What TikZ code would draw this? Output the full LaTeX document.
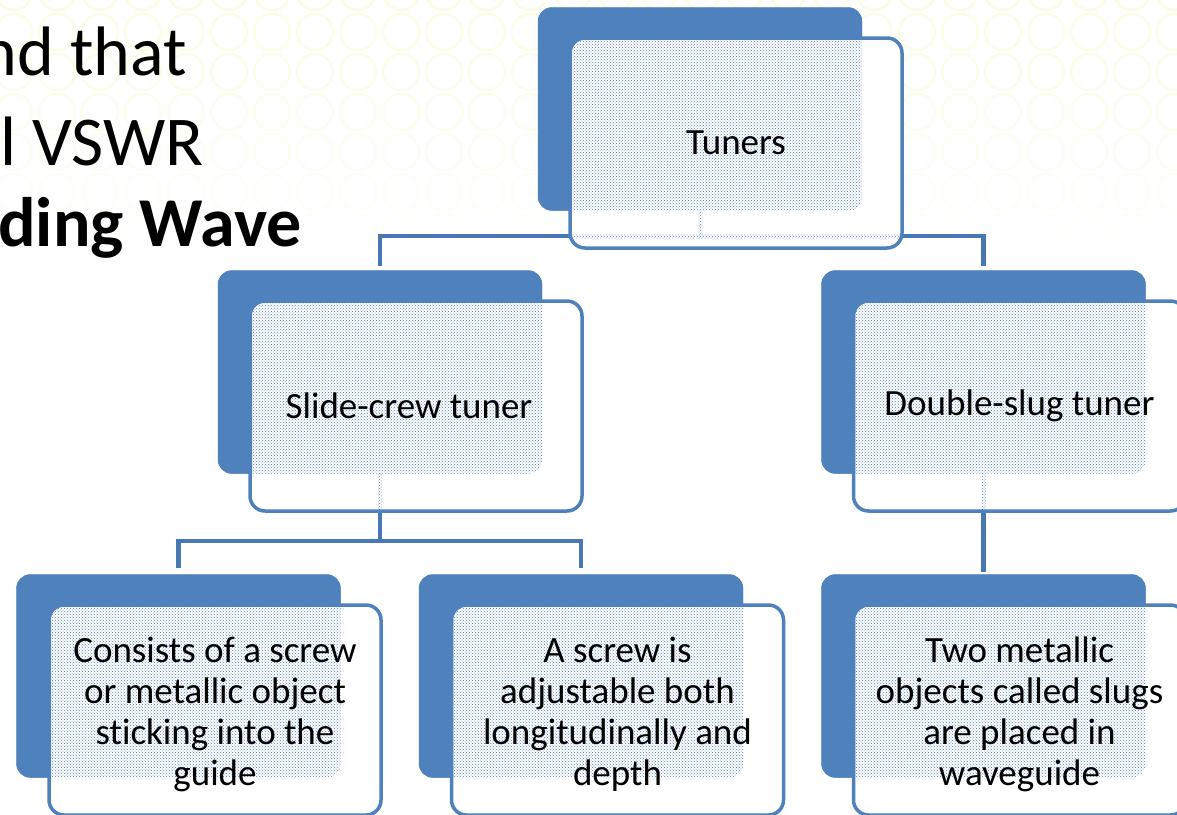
\documentclass[tikz,border=0pt]{standalone}
\usepackage{fontspec}
\setmainfont[Ligatures=NoCommon]{Carlito}
\usetikzlibrary{patterns}
\definecolor{boxblue}{RGB}{79,129,189}
\definecolor{linkblue}{RGB}{72,120,178}
\definecolor{bgyellow}{RGB}{252,252,228}
\begin{document}
\begin{tikzpicture}[x=1pt,y=-1pt,
  backbox/.style={fill=boxblue, rounded corners=14pt, minimum width=324pt, minimum height=203pt, inner sep=0pt},
  frontbox/.style={fill=white, draw=boxblue, line width=3.5pt, rounded corners=15pt,
    minimum width=332pt, minimum height=210pt, inner sep=0pt, align=center,
    font=\fontsize{37}{41}\selectfont,
    path picture={\fill[dotfill, rounded corners=14pt] (#1.north west) rectangle (#1.south east);}},
  boxtext/.style={inner sep=0pt, align=center, font=\fontsize{37}{41}\selectfont},
  conn/.style={draw=linkblue, line width=4.5pt},
  dotfill/.style={pattern=crosshatch dots, pattern color=boxblue},
  headtext/.style={anchor=base east, inner sep=0pt, font=\fontsize{70}{80}\selectfont},
]
\useasboundingbox (0,0) rectangle (1177,814);
\clip (0,0) rectangle (1177,814);
\fill[white] (0,0) rectangle (1177,814);
% faint background circles
\foreach \r in {0,...,6}{
  \pgfmathsetmacro{\op}{max(0,1-\r/7)}
  \foreach \c in {0,...,27}{
    \draw[bgyellow, line width=2.5pt, opacity=\op] (14+43*\c,-8+40*\r) circle (18);
  }
}
% heading text (cut at left edge)
\node[headtext] (h1) at (187,75) {nd that};
\node[headtext] (h2) at (204,165) {l VSWR};
\node[headtext] (h3) at (302,246) {\bfseries ding Wave};

% back boxes
\node[backbox] (tunersB) at (700,109) {};
\node[backbox] (slideB) at (380,372) {};
\node[backbox] (doubleB) at (983.5,372) {};
\node[backbox] (consistB) at (178.5,676) {};
\node[backbox] (screwB) at (581,676) {};
\node[backbox] (twoB) at (983.5,676) {};

% junctions
\coordinate (j1) at (700,236);
\coordinate (j2) at (380,541);

% connectors
\draw[conn] (tunersB.south) -- (j1);
\draw[conn] ([yshift=4pt]slideB.north) |- (j1) -| ([yshift=4pt]doubleB.north);
\draw[conn] (slideB.south) -- (j2);
\draw[conn] ([yshift=6pt]consistB.north) |- (j2) -| ([yshift=6pt]screwB.north);
\draw[conn] (doubleB.south) -- ([yshift=2pt]twoB.north);

% redraw back boxes on top of connectors
\foreach \b in {tunersB,slideB,doubleB,consistB,screwB,twoB}{
  \fill[boxblue, rounded corners=14pt] (\b.north west) rectangle (\b.south east);
}

% front boxes
\node[frontbox=tunersB] (tuners) at (736,143) {Tuners};
\node[frontbox=slideB] (slide) at (416,406) {};
\node[frontbox=doubleB] (double) at (1019.5,406) {Double-slug tuner};
\node[frontbox=consistB] (consist) at (215,710) {};
\node[frontbox=screwB] (screw) at (617.5,710) {};
\node[frontbox=twoB] (two) at (1019.5,710) {};

% connectors seen through the front boxes
\fill[dotfill] ([xshift=-2pt]tunersB.south) rectangle ([xshift=2pt,yshift=-2pt]j1);
\fill[dotfill] ([xshift=3pt,yshift=2pt]tuners.west |- j1) rectangle ([xshift=-3pt,yshift=-2pt]tuners.east |- j1);
\fill[dotfill] ([xshift=-2pt]slideB.south) rectangle ([xshift=2pt,yshift=2pt]slideB.south |- slide.south);
\fill[dotfill] ([xshift=-2pt]doubleB.south) rectangle ([xshift=2pt,yshift=2pt]doubleB.south |- double.south);

% texts
\node[boxtext] (slideT) at ([xshift=-7pt]slide.center) {Slide-crew tuner};
\node[boxtext] (consistT) at ([yshift=-4pt]consist.center) {Consists of a screw\\or metallic object\\sticking into the\\guide};
\node[boxtext] (screwT) at ([yshift=-4pt]screw.center) {A screw is\\adjustable both\\longitudinally and\\depth};
\node[boxtext] (twoT) at ([yshift=-4pt]two.center) {Two metallic\\objects called slugs\\are placed in\\waveguide};
\end{tikzpicture}
\end{document}
